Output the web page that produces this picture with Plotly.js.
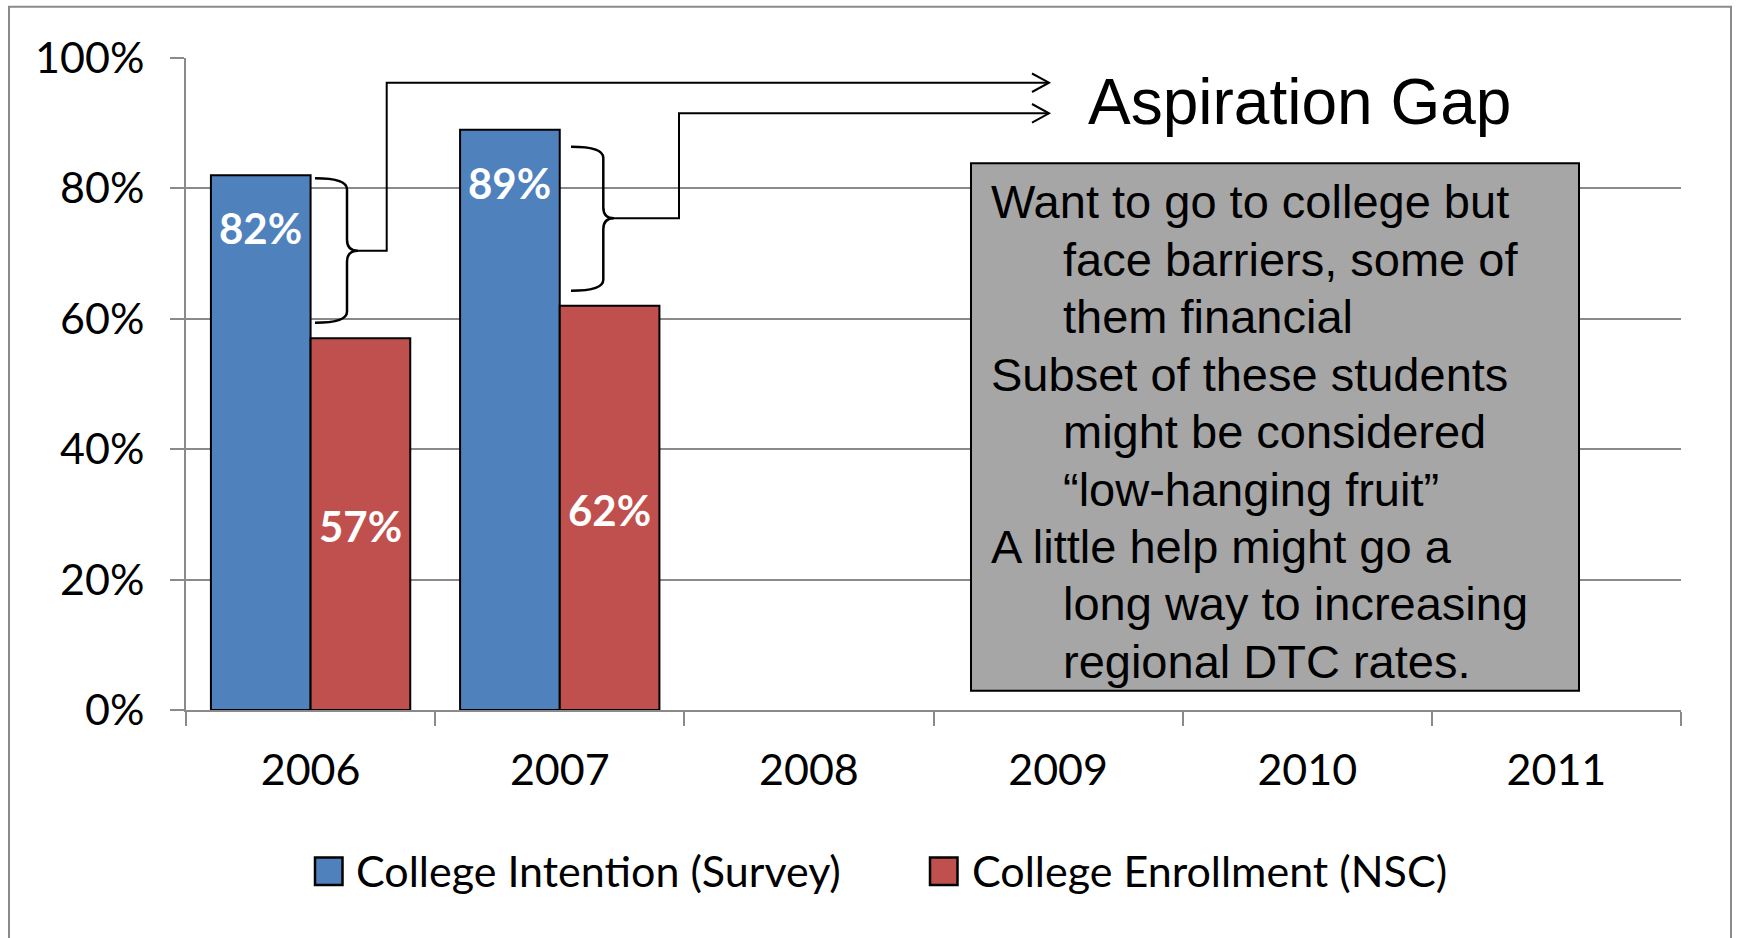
<!DOCTYPE html>
<html>
<head>
<meta charset="utf-8">
<script src="https://cdn.plot.ly/plotly-3.0.1.min.js"></script>
<style>
  html, body { margin: 0; padding: 0; background: #ffffff; }
  #chart { width: 1740px; height: 938px; }
</style>
</head>
<body>
<div id="chart"></div>
<script>
// ---------------- data ----------------
const years = ['2006', '2007', '2008', '2009', '2010', '2011'];
const intention = [0.82, 0.89, null, null, null, null];
const enrollment = [0.57, 0.62, null, null, null, null];
const seriesNames = ['College Intention (Survey)', 'College Enrollment (NSC)'];
const seriesColors = ['#4F81BD', '#C0504D'];
const yTickVals = [0, 0.2, 0.4, 0.6, 0.8, 1.0];
const yTickText = ['0%', '20%', '40%', '60%', '80%', '100%'];
const calloutTitle = 'Aspiration Gap';
const calloutLines = [
  'Want to go to college but',
  'face barriers, some of',
  'them financial',
  'Subset of these students',
  'might be considered',
  '\u201Clow-hanging fruit\u201D',
  'A little help might go a',
  'long way to increasing',
  'regional DTC rates.'
];
const calloutIndent = [false, true, true, false, true, true, false, true, true];

// ---------------- layout helpers ----------------
const FW = 1740, FH = 938;
const ML = 186, MR = 59, MT = 58, MB = 228;
const PW = FW - ML - MR, PH = FH - MT - MB;
const fx = x => (x - ML) / PW;
const fy = y => (FH - MB - y) / PH;
const calibri = 'Lato, "Open Sans", sans-serif';
const arial = '"Liberation Sans", Arial, sans-serif';
const gridGray = '#8a8a8a';

function pathStr(cmds) {
  return cmds.map(c => {
    const op = c[0];
    const pts = [];
    for (let i = 1; i < c.length; i += 2) pts.push(fx(c[i]).toFixed(5) + ',' + fy(c[i + 1]).toFixed(5));
    return op + pts.join(' ');
  }).join(' ');
}
function brace(xEnd, xSpine, yTop, yMid, yBot, xTip) {
  const r = 11;
  return pathStr([
    ['M', xEnd, yTop], ['Q', xSpine, yTop, xSpine, yTop + r], ['L', xSpine, yMid - r],
    ['Q', xSpine, yMid, xTip, yMid], ['Q', xSpine, yMid, xSpine, yMid + r],
    ['L', xSpine, yBot - r], ['Q', xSpine, yBot, xEnd, yBot]
  ]);
}
function lineShape(p, w) {
  return { type: 'path', xref: 'paper', yref: 'paper', path: p, line: { color: '#000', width: w }, layer: 'above' };
}

// ---------------- traces ----------------
const seriesValues = [intention, enrollment];
const traces = seriesValues.map((vals, s) => ({
  type: 'bar', x: years, y: vals, name: seriesNames[s],
  marker: { color: seriesColors[s], line: { color: '#000000', width: 2 } },
  textposition: 'none', hoverinfo: 'skip', showlegend: false
}));

// ---------------- annotations ----------------
const annotations = [];
seriesValues.forEach((vals, s) => {
  vals.forEach((v, i) => {
    if (v === null) return;
    annotations.push({
      xref: 'x', yref: 'y', x: i + (s === 0 ? -0.2 : 0.2),
      y: s === 0 ? v : v / 2, yshift: s === 0 ? -53 : -2,
      text: '<b>' + Math.round(v * 100) + '%</b>', showarrow: false,
      xanchor: 'center', yanchor: 'middle',
      font: { family: calibri, size: 42, color: '#ffffff' }
    });
  });
});
annotations.push({
  xref: 'paper', yref: 'paper', x: fx(1086), y: fy(101.5), xanchor: 'left', yanchor: 'middle',
  text: calloutTitle, showarrow: false, font: { family: arial, size: 64, color: '#000' }
});
calloutLines.forEach((t, k) => {
  annotations.push({
    xref: 'paper', yref: 'paper', x: fx(calloutIndent[k] ? 1061 : 989), y: fy(202 + k * 57.4),
    xanchor: 'left', yanchor: 'middle', text: t, showarrow: false,
    font: { family: arial, size: 47, color: '#000' }
  });
});
// legend (custom, large swatches)
const legendSwatchX = [315, 930];
const legendTextX = [354, 970];
seriesNames.forEach((n, s) => {
  annotations.push({
    xref: 'paper', yref: 'paper', x: fx(legendTextX[s]), y: fy(870), xanchor: 'left', yanchor: 'middle',
    text: n, showarrow: false, font: { family: calibri, size: 43, color: '#000' }
  });
});

// ---------------- shapes ----------------
const shapes = [];
// outer chart border
shapes.push({ type: 'rect', xref: 'paper', yref: 'paper', x0: fx(9), x1: fx(1731), y0: fy(6.7), y1: fy(960),
  line: { color: gridGray, width: 2 }, fillcolor: 'rgba(0,0,0,0)', layer: 'below' });
// callout box
shapes.push({ type: 'rect', xref: 'paper', yref: 'paper', x0: fx(971), x1: fx(1579), y0: fy(690.7), y1: fy(163.3),
  line: { color: '#000', width: 2 }, fillcolor: '#A6A6A6', layer: 'above' });
// braces + connectors + arrows
shapes.push(lineShape(brace(315, 347, 178.3, 250.7, 322.7, 358), 2.5));
shapes.push(lineShape(pathStr([['M', 358, 250.7], ['L', 386.7, 250.7], ['L', 386.7, 82.7], ['L', 1049, 82.7]]), 2));
shapes.push(lineShape(pathStr([['M', 1032, 73.5], ['L', 1049, 82.7], ['L', 1032, 92]]), 2));
shapes.push(lineShape(brace(571, 603.3, 146.7, 218.3, 290.7, 614), 2.5));
shapes.push(lineShape(pathStr([['M', 614, 218.3], ['L', 679, 218.3], ['L', 679, 113.3], ['L', 1049, 113.3]]), 2));
shapes.push(lineShape(pathStr([['M', 1032, 104], ['L', 1049, 113.3], ['L', 1032, 122.6]]), 2));
// legend swatches
seriesColors.forEach((c, s) => {
  shapes.push({ type: 'rect', xref: 'paper', yref: 'paper',
    x0: fx(legendSwatchX[s]), x1: fx(legendSwatchX[s] + 27.5), y0: fy(885), y1: fy(857.5),
    line: { color: '#000', width: 2.5 }, fillcolor: c, layer: 'above' });
});

const layout = {
  width: FW, height: FH,
  margin: { l: ML, r: MR, t: MT, b: MB, pad: 0 },
  paper_bgcolor: '#ffffff', plot_bgcolor: '#ffffff',
  barmode: 'group', bargap: 0.2, bargroupgap: 0,
  showlegend: false,
  xaxis: {
    type: 'category', categoryorder: 'array', categoryarray: years,
    range: [-0.5, years.length - 0.5],
    showgrid: false, zeroline: false,
    showline: true, linecolor: gridGray, linewidth: 2,
    ticks: 'outside', tickson: 'boundaries', ticklen: 14, tickwidth: 2, tickcolor: gridGray,
    ticklabelstandoff: 21,
    tickfont: { family: calibri, size: 43, color: '#000' }
  },
  yaxis: {
    range: [0, 1], tickvals: yTickVals, ticktext: yTickText,
    showgrid: true, gridcolor: gridGray, gridwidth: 2, zeroline: false,
    showline: true, linecolor: gridGray, linewidth: 2,
    ticks: 'outside', ticklen: 14, tickwidth: 2, tickcolor: gridGray,
    ticklabelstandoff: 17,
    tickfont: { family: calibri, size: 43, color: '#000' }
  },
  shapes: shapes,
  annotations: annotations,
  font: { family: calibri }
};

Plotly.newPlot('chart', traces, layout, { displayModeBar: false, staticPlot: true });
</script>
</body>
</html>
